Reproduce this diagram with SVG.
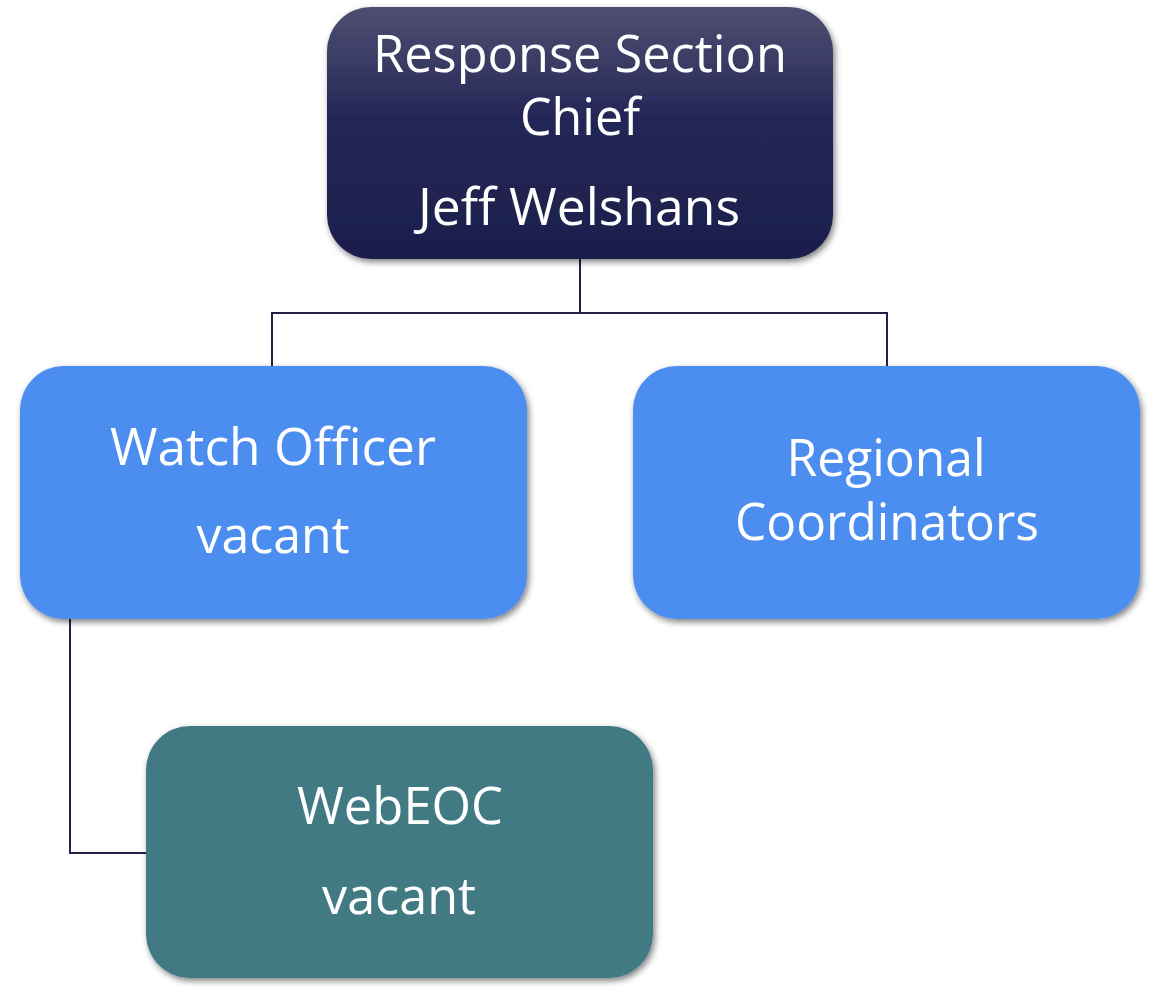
<svg xmlns="http://www.w3.org/2000/svg" width="1152" height="987" viewBox="0 0 1152 987">
  <defs>
    <linearGradient id="gTop" x1="0" y1="0" x2="0" y2="1">
      <stop offset="0" stop-color="#4e4f71"/>
      <stop offset="0.45" stop-color="#242656"/>
      <stop offset="1" stop-color="#1d1e4c"/>
    </linearGradient>
    <filter id="shadow" x="-10%" y="-10%" width="120%" height="125%">
      <feDropShadow dx="2" dy="3" stdDeviation="3" flood-color="#000" flood-opacity="0.5"/>
    </filter>
  </defs>
  <style>
    .box { filter: url(#shadow); }
    .lbl { font-family: "Open Sans", "Noto Sans", sans-serif; font-size: 52px; fill: #ffffff; text-anchor: middle; }
    .conn { fill: none; stroke: #1f2147; stroke-width: 2; }
  </style>
  <rect width="1152" height="987" fill="#ffffff"/>
  <g id="connectors">
    <polyline class="conn" points="580,259 580,313"/>
    <polyline class="conn" points="272,366 272,313 887,313 887,366"/>
    <polyline class="conn" points="70,619 70,853 146,853"/>
  </g>
  <g id="node-chief">
    <rect class="box" x="327" y="7" width="506" height="252" rx="44" fill="url(#gTop)"/>
    <text class="lbl" x="580" y="72" textLength="414" lengthAdjust="spacingAndGlyphs">Response Section</text>
    <text class="lbl" x="580" y="135" textLength="120" lengthAdjust="spacingAndGlyphs">Chief</text>
    <text class="lbl" x="579" y="225" textLength="322" lengthAdjust="spacingAndGlyphs">Jeff Welshans</text>
  </g>
  <g id="node-watch">
    <rect class="box" x="20" y="366" width="507" height="253" rx="44" fill="#4b8ef0"/>
    <text class="lbl" x="273" y="465" textLength="326" lengthAdjust="spacingAndGlyphs">Watch Officer</text>
    <text class="lbl" x="273" y="553" textLength="153" lengthAdjust="spacingAndGlyphs">vacant</text>
  </g>
  <g id="node-regional">
    <rect class="box" x="633" y="366" width="507" height="253" rx="44" fill="#4b8ef0"/>
    <text class="lbl" x="886" y="476" textLength="199" lengthAdjust="spacingAndGlyphs">Regional</text>
    <text class="lbl" x="887" y="540" textLength="304" lengthAdjust="spacingAndGlyphs">Coordinators</text>
  </g>
  <g id="node-webeoc">
    <rect class="box" x="146" y="726" width="507" height="252" rx="44" fill="#427a84"/>
    <text class="lbl" x="400" y="824" textLength="206" lengthAdjust="spacingAndGlyphs">WebEOC</text>
    <text class="lbl" x="399" y="914" textLength="154" lengthAdjust="spacingAndGlyphs">vacant</text>
  </g>
</svg>
